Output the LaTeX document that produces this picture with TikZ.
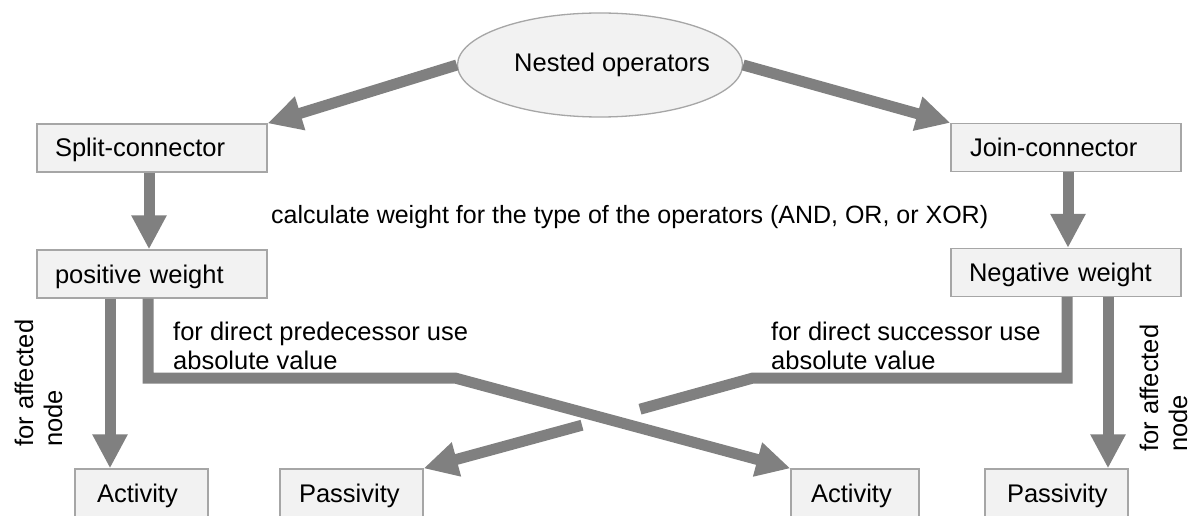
\documentclass[tikz,border=0pt]{standalone}
\usepackage{fontspec}
\setmainfont{Liberation Sans}
\usetikzlibrary{shapes.geometric,arrows.meta}
\definecolor{arrgray}{HTML}{808080}
\definecolor{boxfill}{HTML}{F2F2F2}
\definecolor{boxborder}{HTML}{A6A6A6}
\begin{document}
\begin{tikzpicture}[x=1pt,y=-1pt,
  every node/.style={font=\fontsize{25.5}{29}\selectfont},
  box/.style={draw=boxborder, fill=boxfill, line width=1.3pt, rectangle,
    minimum height=48pt, inner ysep=0pt, text height=22pt, text depth=4pt, align=left},
  arr/.style={draw=arrgray, line width=11pt, -{Triangle[width=33pt,length=34pt]}},
  fat/.style={draw=arrgray, line width=11pt},
  lbl/.style={anchor=base west, inner sep=0pt, align=left}
]
\clip (0,0) rectangle (1193,516);
\fill[white] (0,0) rectangle (1193,516);

\node[ellipse, draw=boxborder, fill=boxfill, line width=1.3pt, inner sep=0pt,
  minimum width=285pt, minimum height=104pt] (ell) at (600,65)
  {\makebox[0pt]{\hspace*{24pt}Nested operators}};

\node[box, inner xsep=18pt, text width=194pt] (split) at (152,148) {Split-connector};
\node[box, inner xsep=18pt, text width=194pt] (pos) at (152,274) {positive weight};
\node[box, inner xsep=19pt, text width=192pt] (join) at (1066,147.5) {Join-connector};
\node[box, inner xsep=18pt, text width=194pt] (neg) at (1066,272.5) {Negative weight};

\node[box, inner xsep=22pt, text width=89pt] (act1) at (141.5,493) {Activity};
\node[box, inner xsep=19pt, text width=105pt] (pas1) at (351.5,493) {Passivity};
\node[box, inner xsep=20pt, text width=88pt] (act2) at (855,493) {Activity};
\node[box, inner xsep=22pt, text width=99pt] (pas2) at (1056.5,493) {Passivity};

\draw[arr] (ell.west) -- (split.north east);
\draw[arr] (ell.east) -- (join.north west);
\draw[arr] ([xshift=-3pt]split.south) -- ([xshift=-3pt]pos.north);
\draw[arr] ([xshift=2pt]join.south) -- ([xshift=2pt]neg.north);

\coordinate (bendL) at (455,378);
\coordinate (bendR) at (753,378);
\coordinate (gapR) at (640,409.2);
\coordinate (gapL) at (582,425.2);

\draw[arr] ([xshift=-42pt]pos.south) -- ([xshift=-42pt]pos.south |- act1.north);
\draw[arr] ([xshift=-4pt]pos.south) |- (bendL) -- (act2.north west);
\draw[fat] ([xshift=1pt]neg.south) |- (bendR) -- (gapR);
\draw[arr] (gapL) -- (pas1.north east);
\draw[arr] ([xshift=42pt]neg.south) -- ([xshift=42pt]neg.south |- pas2.north);

\node[lbl, font=\fontsize{25}{29}\selectfont] (calc) at (271,223) {calculate weight for the type of the operators (AND, OR, or XOR)};
\node[lbl] (predtxt) at (173,369) {for direct predecessor use\\absolute value};
\node[lbl] (succtxt) at (771,369) {for direct successor use\\absolute value};
\node[lbl, rotate=90] (affL) at (62,447) {for affected\\node};
\node[lbl, rotate=90] (affR) at (1187,452) {for affected\\node};
\end{tikzpicture}
\end{document}
